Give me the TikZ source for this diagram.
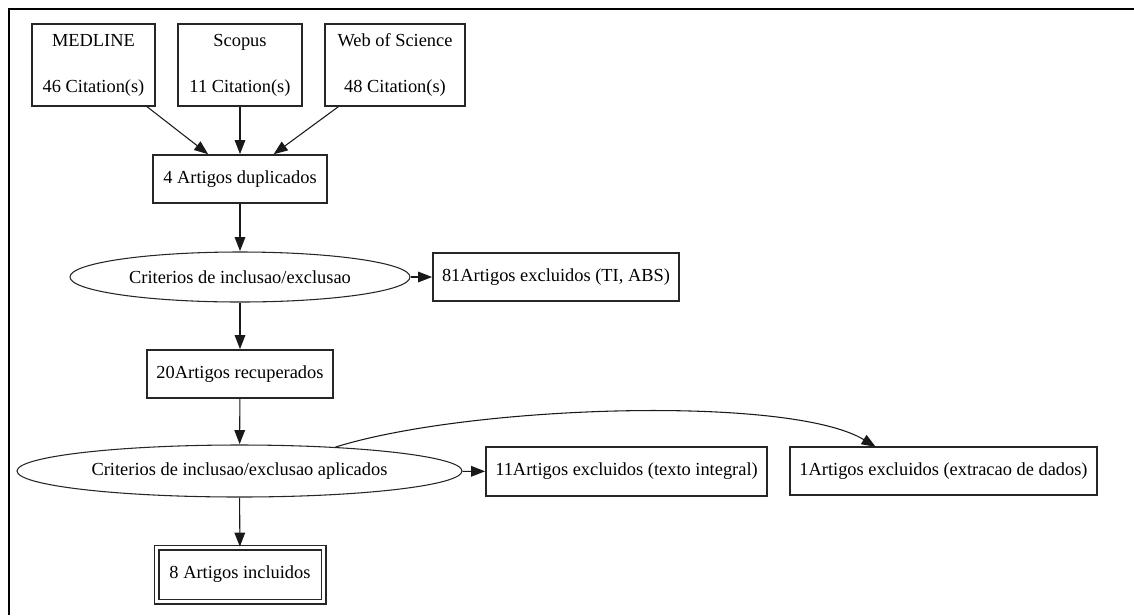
\documentclass[tikz,border=0pt]{standalone}
\usepackage{fontspec}
\setmainfont{Liberation Serif}
\usetikzlibrary{arrows.meta,shapes.geometric}
\begin{document}
\begin{tikzpicture}[x=0.75pt,y=-0.75pt,
  every node/.style={font=\fontsize{13.8pt}{17.25pt}\selectfont, inner sep=0pt, line width=0.8pt, draw=black!85},
  srcbox/.style={rectangle, minimum height=61.5pt, align=center},
  rbox/.style={rectangle, minimum height=36pt},
  oval/.style={ellipse},
  finalbox/.style={rectangle, double, double distance=2.9pt, minimum width=125.25pt, minimum height=40.5pt},
  conn/.style={line width=0.8pt, draw=black!90, -{Triangle[length=10.5pt,width=8pt]}, shorten >=0.3pt}
]
\useasboundingbox (0,0) rectangle (1134,615);
\draw[line width=0.9pt] (9,615) -- (9,9) -- (1134,9);

\node[srcbox, minimum width=92.25pt] (med) at (93.5,65) {MEDLINE\\[\baselineskip]46 Citation(s)};
\node[srcbox, minimum width=93pt] (sco) at (240,65) {Scopus\\[\baselineskip]11 Citation(s)};
\node[srcbox, minimum width=105pt] (wos) at (395,65) {Web of Science\\[\baselineskip]48 Citation(s)};
\node[rbox, minimum width=130.5pt] (dup) at (240,179) {4 Artigos duplicados};
\node[oval, minimum width=255pt, minimum height=37.5pt] (e1) at (240,277) {Criterios de inclusao/exclusao};
\node[rbox, minimum width=184.5pt] (ex1) at (556,277) {81Artigos excluidos (TI, ABS)};
\node[rbox, minimum width=139.5pt] (rec) at (240,374) {20Artigos recuperados};
\node[oval, minimum width=333.75pt, minimum height=39pt] (e2) at (239.5,471) {Criterios de inclusao/exclusao aplicados};
\node[rbox, minimum width=210.75pt, minimum height=36.75pt] (ex2) at (626.5,471.5) {11Artigos excluidos (texto integral)};
\node[rbox, minimum width=230.25pt] (ex3) at (943.5,471) {1Artigos excluidos (extracao de dados)};
\node[finalbox] (inc) at (240,574.5) {8 Artigos incluidos};
\coordinate (ex3in) at (876,447);

\draw[conn] (med) -- (dup);
\draw[conn] (sco) -- (dup);
\draw[conn] (wos) -- (dup);
\draw[conn] (dup) -- (e1);
\draw[conn] (e1) -- (ex1);
\draw[conn] (e1) -- (rec);
\draw[conn] (rec) -- (e2);
\draw[conn] (e2) -- (ex2);
\draw[conn] (e2) -- (inc);
\draw[conn] (e2.14) .. controls (470,405) and (790,395) .. (ex3in);
\end{tikzpicture}
\end{document}
